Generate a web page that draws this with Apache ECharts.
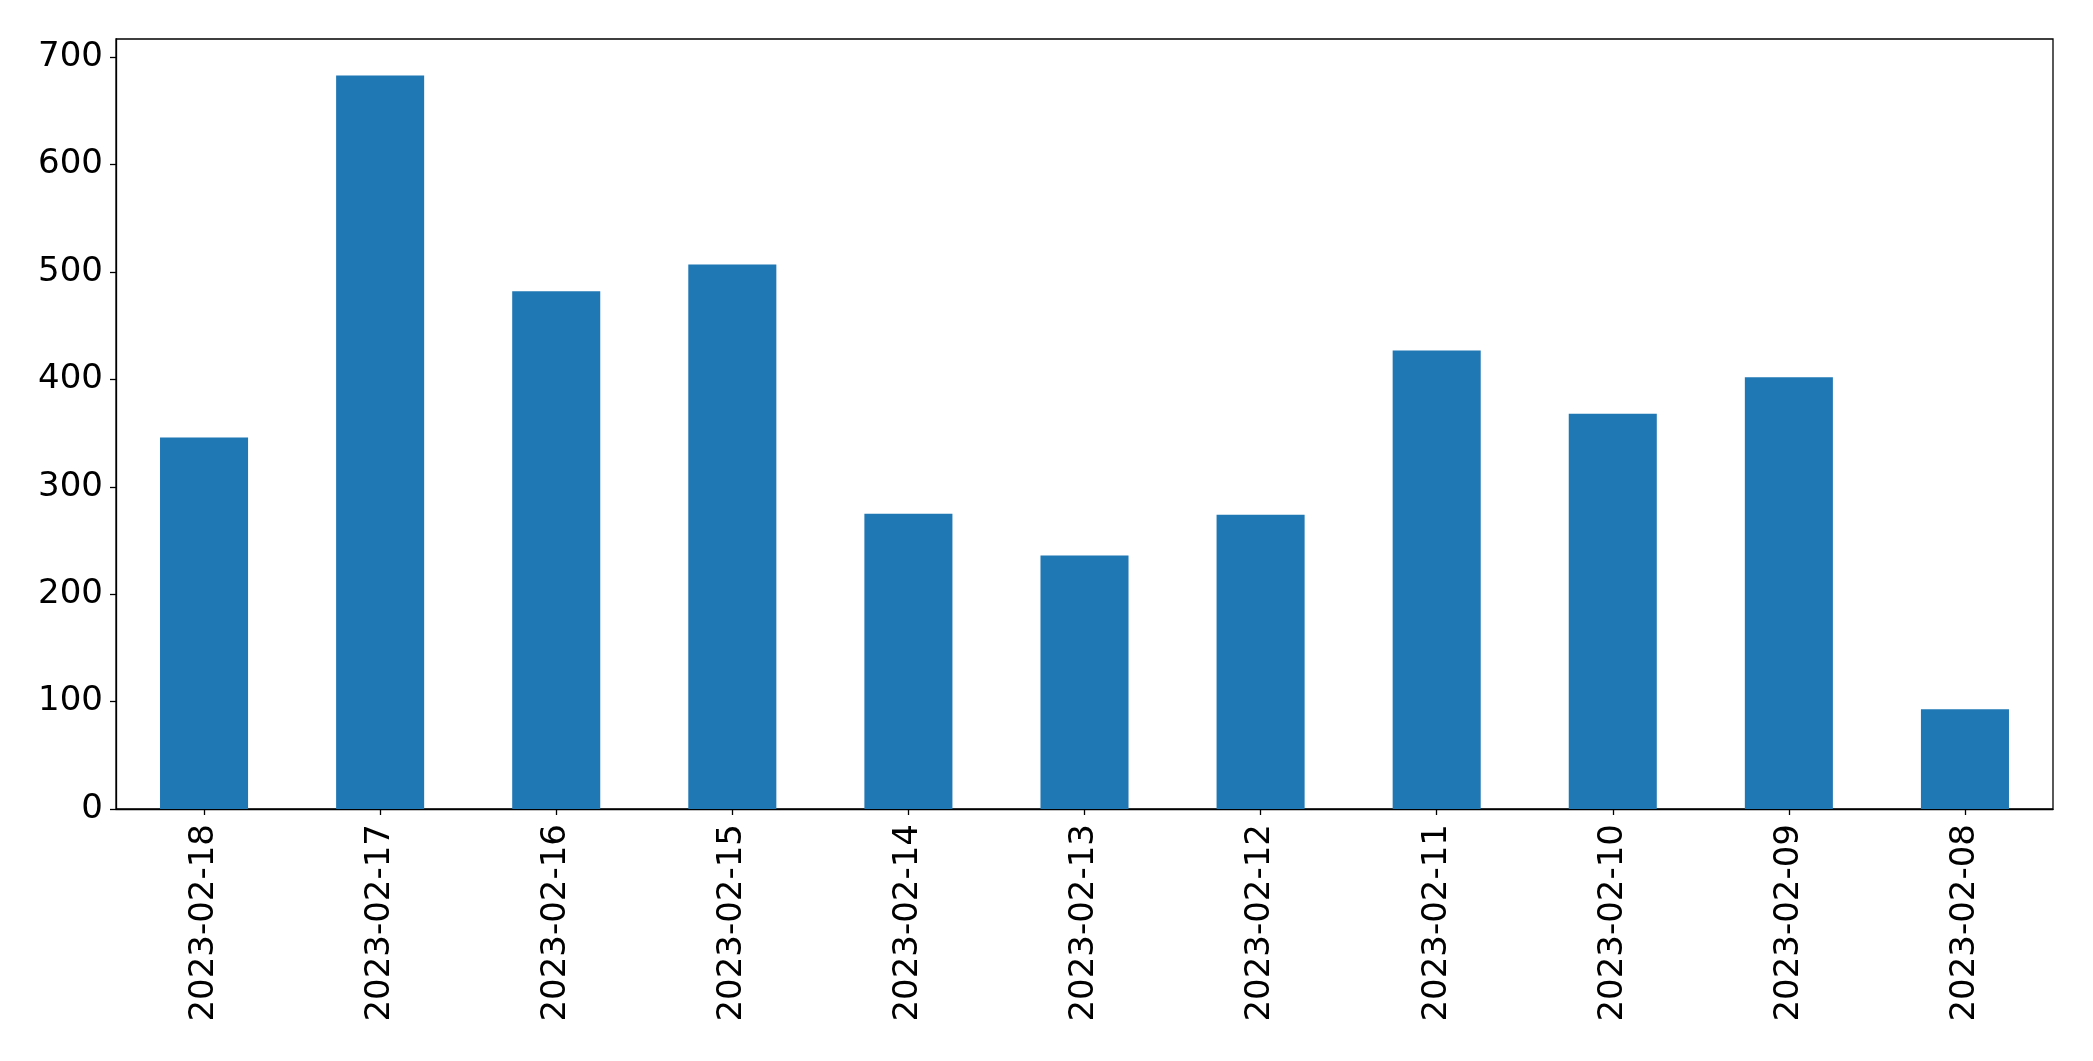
<!DOCTYPE html>
<html>
<head>
<meta charset="utf-8">
<script src="https://cdn.jsdelivr.net/npm/echarts@6/dist/echarts.min.js"></script>
<style>
html,body{margin:0;padding:0;background:#fff;}
#chart{width:2093px;height:1061px;}
</style>
</head>
<body>
<div id="chart"></div>
<script>
const categories = ['2023-02-18','2023-02-17','2023-02-16','2023-02-15','2023-02-14','2023-02-13','2023-02-12','2023-02-11','2023-02-10','2023-02-09','2023-02-08'];
const values = [346, 683, 482, 507, 275, 236, 274, 427, 368, 402, 93];
const yTicks = [0, 100, 200, 300, 400, 500, 600, 700];

const chart = echarts.init(document.getElementById('chart'));
const font = 'DejaVu Sans';
chart.setOption({
  animation: false,
  backgroundColor: '#fff',
  grid: {
    left: 116, right: 40, top: 39, bottom: 252,
    show: true, borderColor: '#000', borderWidth: 1.3, backgroundColor: 'transparent'
  },
  xAxis: {
    type: 'category',
    data: categories,
    axisLine: { show: true, lineStyle: { color: '#000', width: 1.3 } },
    axisTick: { show: true, alignWithLabel: true, length: 6, lineStyle: { color: '#000', width: 1.3 } },
    axisLabel: { rotate: 90, fontFamily: font, fontSize: 34, color: '#000', margin: 15, interval: 0 },
    splitLine: { show: false }
  },
  yAxis: {
    type: 'value',
    min: 0, max: 717, interval: 100,
    axisLine: { show: true, lineStyle: { color: '#000', width: 1.3 } },
    axisTick: { show: true, length: 6, lineStyle: { color: '#000', width: 1.3 }, customValues: yTicks },
    axisLabel: { fontFamily: font, fontSize: 34, color: '#000', margin: 13, customValues: yTicks },
    splitLine: { show: false }
  },
  series: [{
    type: 'bar',
    data: values,
    barWidth: '50%',
    itemStyle: { color: '#1f77b4' }
  }]
});
</script>
</body>
</html>
